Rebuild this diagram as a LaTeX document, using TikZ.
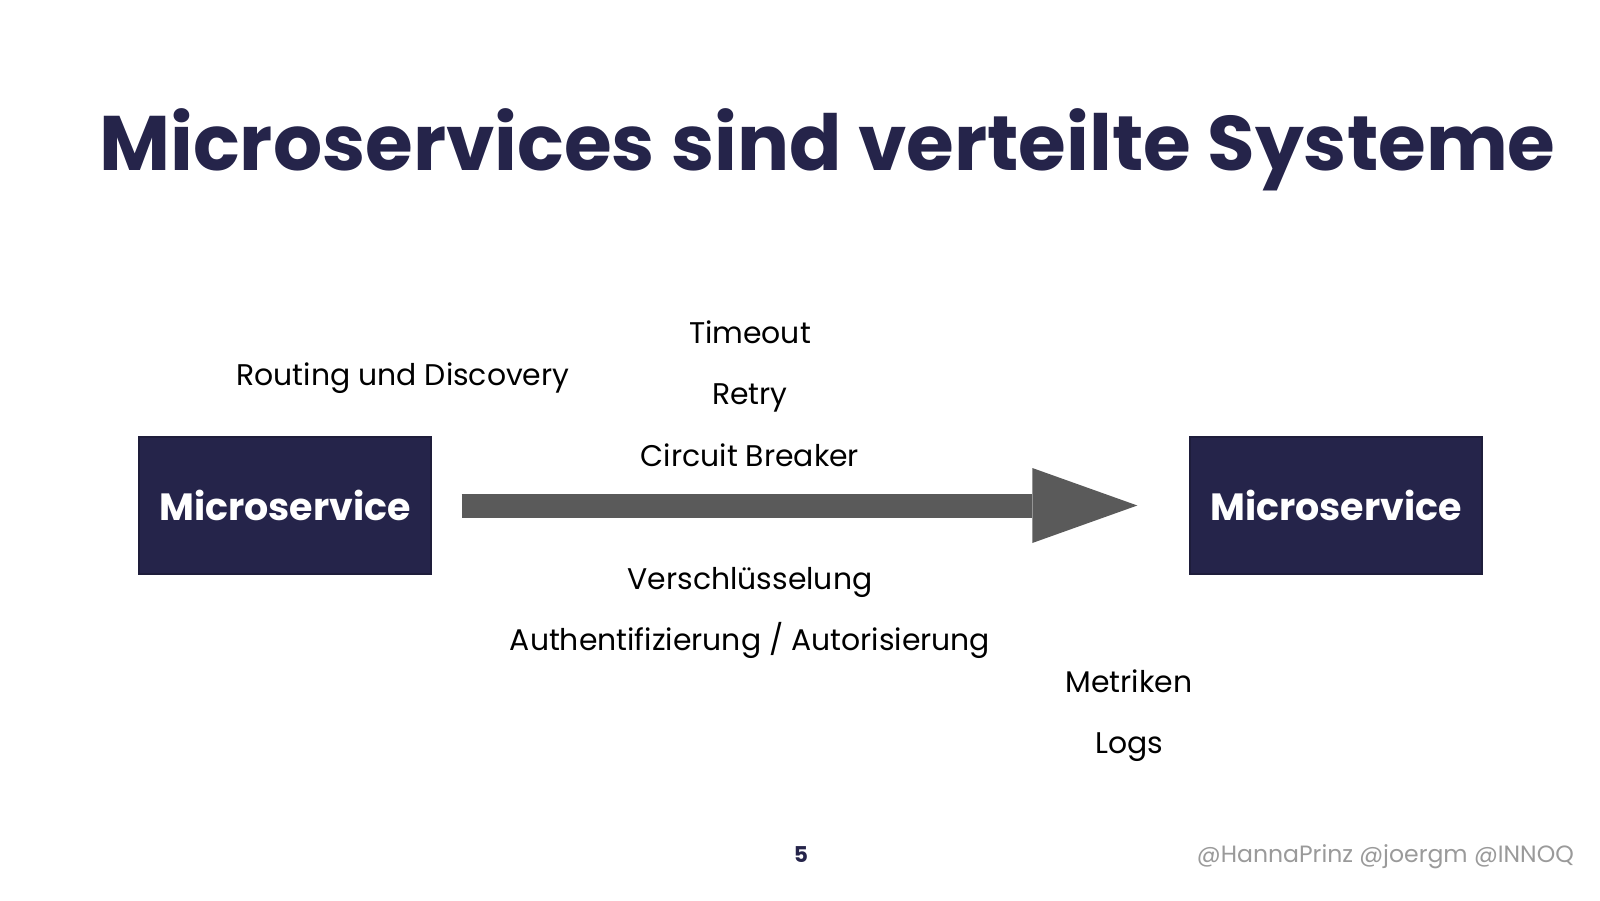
\documentclass[tikz,border=0pt]{standalone}
\usepackage{fontspec}
\setmainfont{Poppins}
\usetikzlibrary{arrows.meta, positioning}

\definecolor{innoqnavy}{HTML}{25244A}
\definecolor{arrowgray}{HTML}{5A5A5A}
\definecolor{footgray}{HTML}{9A9A9A}

\begin{document}
\begin{tikzpicture}[
  service/.style={fill=innoqnavy, draw=innoqnavy!80!black, text=white,
    minimum width=2.92cm, minimum height=1.37cm, inner sep=0pt,
    font=\fontsize{10.8}{13}\selectfont\bfseries},
  flow/.style={arrowgray, line width=0.24cm,
    -{Triangle[length=1.05cm, width=0.75cm, line width=0pt]}},
  concern/.style={text=black, anchor=base, font=\fontsize{8.5}{10}\selectfont},
  footer/.style={anchor=base, inner sep=0pt}
]

%% --- page frame ---
\useasboundingbox (0,0) rectangle (16,9);

%% --- title ---
\node[innoqnavy, anchor=base, font=\fontsize{22}{26}\selectfont\bfseries] (title)
  at (8.275,7.29) {Microservices sind verteilte Systeme};

%% --- the two services ---
\node[service] (caller) at (2.85,3.945) {Microservice};
\node[service] (callee) at (13.36,3.945) {Microservice};

%% --- the call between them ---
\draw[flow, shorten <=0.30cm, shorten >=0.52cm] (caller) -- (callee);

%% --- concerns above the call ---
\node[concern] (timeout) at (7.50,5.57) {Timeout};
\node[concern] (retry)   at (7.50,4.96) {Retry};
\node[concern] (breaker) at (7.50,4.34) {Circuit Breaker};
\node[concern] (routing) at (4.03,5.15) {Routing und Discovery};

%% --- concerns below the call ---
\node[concern] (crypto)  at (7.50,3.11) {Verschlüsselung};
\node[concern] (auth)    at (7.50,2.50) {Authentifizierung / Autorisierung};
\node[concern] (metrics) at (11.29,2.08) {Metriken};
\node[concern] (logs)    at (11.29,1.47) {Logs};

%% --- footer ---
\node[footer, innoqnavy, font=\fontsize{6.2}{8}\selectfont\bfseries] (pagenum)
  at (8.01,0.38) {5};
\node[footer, footgray, anchor=base east, font=\fontsize{6.7}{8}\selectfont]
  (handles) at (15.745,0.38) {@HannaPrinz @joergm @INNOQ};

\end{tikzpicture}
\end{document}
